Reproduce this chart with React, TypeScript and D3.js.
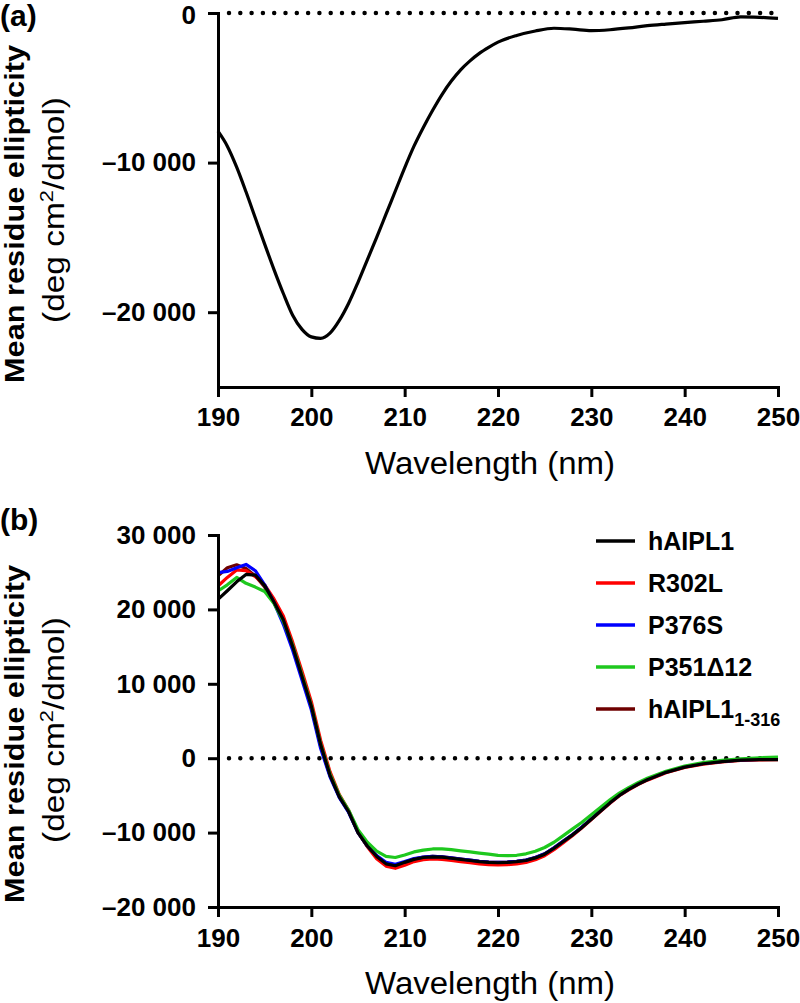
import { useEffect, useRef } from 'react';
import * as d3 from 'd3';

// axis ticks
const ticksX = [190, 200, 210, 220, 230, 240, 250];
const ticksYA = [0, -10000, -20000];
const ticksYB = [30000, 20000, 10000, 0, -10000, -20000];

// panel (a): single spectrum
const wavelengthA = [190, 191, 192, 193, 194, 195, 196, 197, 198, 199, 200, 201, 202, 203, 204, 205, 206, 207, 208, 209, 210, 211, 212, 213, 214, 215, 216, 217, 218, 219, 220, 222, 224, 226, 228, 230, 232, 234, 236, 238, 240, 242, 244, 246, 248, 250];
const ellipticityA = [-7900, -8900, -10300, -11950, -13700, -15450, -17150, -18750, -20200, -21150, -21650, -21750, -21400, -20550, -19400, -18000, -16500, -15000, -13450, -11900, -10350, -8900, -7650, -6500, -5450, -4550, -3800, -3200, -2700, -2300, -1950, -1500, -1200, -1020, -1080, -1180, -1120, -1000, -850, -740, -640, -550, -450, -260, -290, -360];

// panel (b): five constructs
const wavelengthB = [190, 191, 192, 193, 194, 195, 196, 197, 198, 199, 200, 201, 202, 203, 204, 205, 206, 207, 208, 209, 210, 211, 212, 213, 214, 215, 216, 217, 218, 219, 220, 221, 222, 223, 224, 225, 226, 227, 228, 229, 230, 231, 232, 233, 234, 235, 236, 238, 240, 242, 244, 246, 248, 250];
const hAIPL1 = [21350, 22500, 23700, 24700, 24600, 23200, 21000, 18600, 15000, 11000, 7000, 1800, -2300, -5200, -7200, -10000, -11800, -13200, -14200, -14450, -14000, -13600, -13350, -13250, -13300, -13450, -13600, -13750, -13900, -14000, -14050, -14000, -13900, -13750, -13400, -12900, -12100, -11200, -10300, -9300, -8200, -7100, -6000, -5000, -4200, -3500, -2900, -1900, -1200, -750, -450, -250, -180, -180];
const R302L = [23150, 24300, 25300, 25200, 24400, 23300, 21400, 19100, 15600, 11700, 7600, 2400, -1800, -4900, -7000, -9900, -11900, -13500, -14500, -14800, -14400, -13900, -13650, -13550, -13600, -13750, -13900, -14050, -14200, -14300, -14350, -14300, -14200, -14000, -13650, -13100, -12300, -11350, -10400, -9350, -8250, -7150, -6050, -5050, -4250, -3550, -2950, -1950, -1250, -800, -500, -300, -220, -200];
const P376S = [24950, 25100, 25600, 26050, 25200, 23300, 20900, 18000, 14500, 10500, 6500, 1300, -2500, -5300, -7300, -10000, -11800, -13100, -14000, -14250, -13900, -13500, -13300, -13200, -13250, -13400, -13550, -13700, -13850, -13950, -14000, -13950, -13850, -13700, -13350, -12850, -12050, -11150, -10250, -9250, -8150, -7050, -5950, -4950, -4150, -3450, -2850, -1850, -1150, -700, -420, -230, -160, -150];
const P351D12 = [22470, 23300, 24300, 23500, 23000, 22400, 20800, 18400, 15200, 11200, 7100, 1900, -2100, -5000, -7000, -9600, -11300, -12500, -13200, -13350, -13000, -12600, -12350, -12200, -12200, -12300, -12450, -12600, -12750, -12900, -13050, -13100, -13050, -12850, -12500, -12000, -11300, -10400, -9500, -8600, -7600, -6600, -5600, -4700, -3950, -3300, -2700, -1750, -1050, -600, -300, -100, 50, 150];
const hAIPL1_316 = [24500, 25600, 26000, 25500, 24500, 23000, 20900, 18400, 14900, 10900, 6900, 1600, -2300, -5200, -7200, -10000, -11800, -13150, -14150, -14400, -14000, -13550, -13300, -13200, -13250, -13400, -13550, -13700, -13850, -13950, -14000, -13950, -13850, -13700, -13350, -12850, -12050, -11150, -10250, -9250, -8150, -7050, -5950, -4950, -4150, -3450, -2850, -1850, -1150, -700, -420, -230, -170, -170];

const legendNames = ['hAIPL1', 'R302L', 'P376S', 'P351Δ12', 'hAIPL1'];
const colors = ['#000000', '#ff0000', '#0000ff', '#1ec81e', '#6e0000'];
// draw order: dark red, red, blue, green, black on top
const drawOrder = [4, 1, 2, 3, 0];

const FONT = 'Liberation Sans, Arial, Helvetica, sans-serif';

const fmtY = (v: number) =>
  (v < 0 ? '–' : '') + d3.format(',')(Math.abs(v)).replace(',', ' ');

function App() {
  const ref = useRef<SVGSVGElement>(null);

  useEffect(() => {
    const svg = d3.select(ref.current);
    svg.selectAll('*').remove();

    const seriesB = [hAIPL1, R302L, P376S, P351D12, hAIPL1_316];

    const styleAxis = (g: any) => {
      g.select('.domain').attr('stroke-width', 3).attr('stroke-linecap', 'square');
      g.selectAll('.tick line').attr('stroke-width', 3);
      g.selectAll('.tick text')
        .attr('font-family', FONT)
        .attr('font-weight', 'bold')
        .attr('font-size', 26)
        .attr('fill', '#000');
    };

    const yLabel = (cy: number) => {
      svg.append('text')
        .attr('transform', `translate(24,${cy}) rotate(-90)`)
        .attr('text-anchor', 'middle')
        .attr('font-family', FONT)
        .attr('font-weight', 'bold')
        .attr('font-size', 27)
        .attr('textLength', 338)
        .attr('lengthAdjust', 'spacingAndGlyphs')
        .text('Mean residue ellipticity');
      const t = svg.append('text')
        .attr('transform', `translate(64,${cy - 4}) rotate(-90)`)
        .attr('text-anchor', 'middle')
        .attr('font-family', FONT)
        .attr('font-size', 29)
        .attr('textLength', 226)
        .attr('lengthAdjust', 'spacingAndGlyphs');
      t.append('tspan').text('(deg cm');
      t.append('tspan').attr('font-size', 19).attr('dy', -11).text('2');
      t.append('tspan').attr('dy', 11).text('/dmol)');
    };

    const xLabel = (y: number) => {
      svg.append('text')
        .attr('x', 490)
        .attr('y', y)
        .attr('text-anchor', 'middle')
        .attr('font-family', FONT)
        .attr('font-size', 31)
        .attr('textLength', 250)
        .attr('lengthAdjust', 'spacingAndGlyphs')
        .text('Wavelength (nm)');
    };

    const panelLabel = (y: number, s: string) => {
      svg.append('text')
        .attr('x', 0)
        .attr('y', y)
        .attr('font-family', FONT)
        .attr('font-weight', 'bold')
        .attr('font-size', 30)
        .text(s);
    };

    // ---------- panel (a)
    const xA = d3.scaleLinear().domain([190, 250]).range([218, 778]);
    const yA = d3.scaleLinear().domain([-25000, 0]).range([387, 13]);

    svg.append('line')
      .attr('x1', xA(190) + 11).attr('x2', xA(250))
      .attr('y1', yA(0)).attr('y2', yA(0))
      .attr('stroke', '#000').attr('stroke-width', 4.5)
      .attr('stroke-linecap', 'round').attr('stroke-dasharray', '0 11.3');

    const lineA = d3.line<number>()
      .x((d, i) => xA(wavelengthA[i]))
      .y((d) => yA(d))
      .curve(d3.curveMonotoneX);
    svg.append('path')
      .attr('d', lineA(ellipticityA))
      .attr('fill', 'none')
      .attr('stroke', '#000')
      .attr('stroke-width', 3.2);

    svg.append('g')
      .attr('transform', `translate(0,${yA(-25000)})`)
      .call(d3.axisBottom(xA).tickValues(ticksX).tickSize(10).tickSizeOuter(0).tickPadding(11).tickFormat(d3.format('d')))
      .call(styleAxis);
    const yAxisA = svg.append('g')
      .attr('transform', `translate(${xA(190)},0)`)
      .call(d3.axisLeft(yA).tickValues(ticksYA).tickSize(10).tickSizeOuter(0).tickPadding(12).tickFormat(fmtY as any))
      .call(styleAxis);
    // keep the top "0" label inside the page
    yAxisA.selectAll('.tick text').filter((d: any) => d === 0).attr('y', 2);

    panelLabel(26, '(a)');
    yLabel(214);
    xLabel(474);

    // ---------- panel (b)
    const xB = d3.scaleLinear().domain([190, 250]).range([218, 778]);
    const yB = d3.scaleLinear().domain([-20000, 30000]).range([907, 535]);

    svg.append('line')
      .attr('x1', xB(190) + 11).attr('x2', xB(250) - 4)
      .attr('y1', yB(0)).attr('y2', yB(0))
      .attr('stroke', '#000').attr('stroke-width', 4.5)
      .attr('stroke-linecap', 'round').attr('stroke-dasharray', '0 11.3');

    drawOrder.forEach((k) => {
      const line = d3.line<number>()
        .x((d, i) => xB(wavelengthB[i]))
        .y((d) => yB(d));
      svg.append('path')
        .attr('d', line(seriesB[k]))
        .attr('fill', 'none')
        .attr('stroke', colors[k])
        .attr('stroke-width', 3.2)
        .attr('stroke-linejoin', 'round');
    });

    svg.append('g')
      .attr('transform', `translate(0,${yB(-20000)})`)
      .call(d3.axisBottom(xB).tickValues(ticksX).tickSize(10).tickSizeOuter(0).tickPadding(12).tickFormat(d3.format('d')))
      .call(styleAxis);
    svg.append('g')
      .attr('transform', `translate(${xB(190)},0)`)
      .call(d3.axisLeft(yB).tickValues(ticksYB).tickSize(10).tickSizeOuter(0).tickPadding(12).tickFormat(fmtY as any))
      .call(styleAxis);

    panelLabel(530, '(b)');
    yLabel(734);
    xLabel(994);

    // legend
    const lg = svg.append('g');
    legendNames.forEach((name, i) => {
      const y = 541 + i * 42;
      lg.append('line')
        .attr('x1', 596).attr('x2', 635)
        .attr('y1', y).attr('y2', y)
        .attr('stroke', colors[i]).attr('stroke-width', 3.5);
      const t = lg.append('text')
        .attr('x', 648).attr('y', y + 9)
        .attr('font-family', FONT)
        .attr('font-weight', 'bold')
        .attr('font-size', 25)
        .text(name);
      if (i === 4) {
        t.append('tspan').attr('font-size', 18).attr('dy', 8).text('1-316');
      }
    });
  }, []);

  return (
    <svg
      ref={ref}
      width={800}
      height={1003}
      style={{ position: 'absolute', left: 0, top: 0, background: '#fff' }}
    />
  );
}

export default App;
